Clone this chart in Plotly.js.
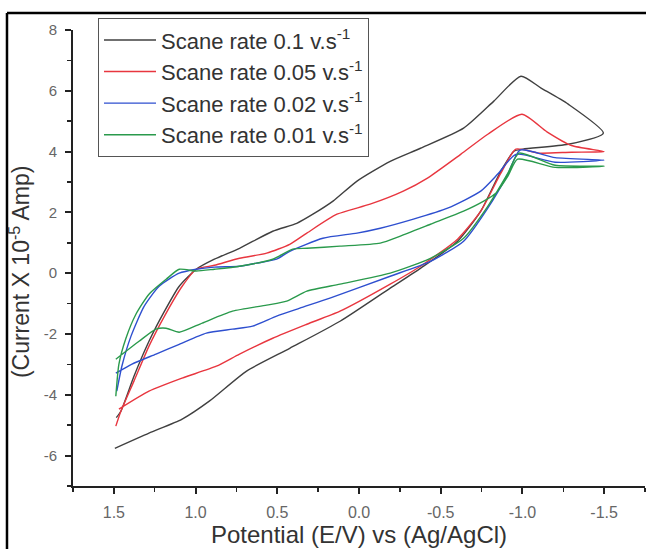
<!DOCTYPE html>
<html>
<head>
<meta charset="utf-8">
<script src="https://cdn.plot.ly/plotly-3.0.1.min.js"></script>
<style>html,body{margin:0;padding:0;background:#fff;}#chart{width:646px;height:549px;}</style>
</head>
<body>
<div id="chart"></div>
<script>
// Scan rate 0.1 V/s
const x01 = [1.494,1.285,1.082,0.916,0.688,0.424,0.116,-0.191,-0.376,-0.603,-0.745,-0.868,-0.948,-1.003,-1.28,-1.495,-1.28,-1.114,-0.991,-0.825,-0.640,-0.376,-0.191,0.012,0.159,0.282,0.381,0.528,0.731,0.885,0.996,1.10,1.19,1.285,1.377,1.457,1.485];
const y01 = [-5.76,-5.26,-4.80,-4.21,-3.22,-2.47,-1.58,-0.49,0.16,1.05,2.04,3.36,4.01,4.08,4.24,4.61,5.56,6.09,6.48,5.66,4.77,4.11,3.68,3.03,2.37,1.94,1.64,1.38,0.82,0.46,0.13,-0.43,-1.25,-2.24,-3.39,-4.54,-4.75];
// Scan rate 0.05 V/s
const x005 = [1.469,1.285,1.082,0.873,0.731,0.528,0.319,0.116,-0.191,-0.376,-0.603,-0.745,-0.868,-0.96,-1.1,-1.3,-1.5,-1.3,-1.15,-0.997,-0.788,-0.622,-0.419,-0.271,-0.068,0.135,0.319,0.424,0.565,0.731,0.885,0.996,1.082,1.19,1.285,1.377,1.457,1.488];
const y005 = [-4.47,-3.88,-3.45,-3.06,-2.66,-2.14,-1.68,-1.25,-0.36,0.23,1.12,2.04,3.29,4.08,3.95,3.98,4.00,4.20,4.65,5.23,4.57,3.91,3.13,2.70,2.27,1.94,1.32,0.95,0.66,0.49,0.26,0.13,-0.43,-1.41,-2.40,-3.55,-4.54,-5.03];
// Scan rate 0.02 V/s
const x002 = [1.488,1.389,1.242,1.10,0.934,0.774,0.651,0.504,0.362,0.178,-0.191,-0.437,-0.640,-0.788,-0.911,-0.985,-1.2,-1.5,-1.2,-0.96,-0.849,-0.745,-0.542,-0.333,-0.130,0.012,0.221,0.424,0.504,0.627,0.731,0.885,0.996,1.10,1.223,1.315,1.395,1.451,1.482];
const y002 = [-3.29,-2.99,-2.66,-2.34,-1.97,-1.84,-1.74,-1.41,-1.15,-0.82,-0.10,0.39,1.05,2.14,3.26,4.05,3.80,3.72,3.65,3.91,3.26,2.70,2.14,1.78,1.48,1.32,1.15,0.72,0.46,0.33,0.23,0.20,0.13,0.0,-0.43,-1.09,-2.07,-3.06,-3.88];
// Scan rate 0.01 V/s
const x001 = [1.488,1.346,1.242,1.18,1.10,0.959,0.774,0.565,0.442,0.319,0.116,-0.191,-0.437,-0.640,-0.788,-0.911,-0.979,-1.2,-1.5,-1.2,-0.97,-0.911,-0.837,-0.763,-0.640,-0.437,-0.253,-0.130,0.116,0.319,0.405,0.528,0.731,0.885,0.996,1.10,1.18,1.285,1.365,1.426,1.469,1.488];
const y001 = [-2.83,-2.24,-1.84,-1.81,-1.94,-1.64,-1.25,-1.05,-0.92,-0.59,-0.36,0.0,0.49,1.15,2.20,3.29,3.95,3.55,3.52,3.48,3.75,3.19,2.63,2.37,2.04,1.61,1.22,0.99,0.89,0.82,0.79,0.46,0.23,0.13,0.07,0.13,-0.2,-0.69,-1.35,-2.14,-2.99,-4.05];

const names = ['Scane rate 0.1 v.s<sup>-1</sup>','Scane rate 0.05 v.s<sup>-1</sup>','Scane rate 0.02 v.s<sup>-1</sup>','Scane rate 0.01 v.s<sup>-1</sup>'];
const xTickVals = [1.5,1.0,0.5,0.0,-0.5,-1.0,-1.5];
const xTickText = ['1.5','1.0','0.5','0.0','-0.5','-1.0','-1.5'];
const yTickVals = [-6,-4,-2,0,2,4,6,8];
const yTickText = ['-6','-4','-2','0','2','4','6','8'];
const yTitle = '(Current X 10<sup>-5</sup> Amp)';
const xTitle = 'Potential (E/V) vs (Ag/AgCl)';

const colors = ['#404040','#e8363f','#2e4fcf','#2a9a4c'];
const xs = [x01,x005,x002,x001];
const ys = [y01,y005,y002,y001];

const data = xs.map((x,i)=>({
  x: x, y: ys[i], type:'scatter', mode:'lines', name:names[i],
  line:{color:colors[i], width:1.4, shape:'spline', smoothing:0.6}
}));

const layout = {
  width:646, height:549,
  margin:{l:73, r:1, t:30, b:63},
  paper_bgcolor:'#fff', plot_bgcolor:'#fff',
  font:{family:'Arial, Liberation Sans, sans-serif', color:'#333'},
  showlegend:true,
  legend:{x:0.0437, y:1.026, xanchor:'left', yanchor:'top',
    bordercolor:'#555', borderwidth:1, bgcolor:'rgba(255,255,255,0)',
    font:{size:22, color:'#333'}, itemwidth:52},
  xaxis:{range:[1.75,-1.75], autorange:false, tickmode:'array', tickvals:xTickVals, ticktext:xTickText,
    showgrid:false, zeroline:false, showline:true, linecolor:'#222', linewidth:2,
    ticks:'outside', ticklen:6, tickwidth:2, tickcolor:'#222',
    minor:{tickmode:'linear', tick0:0, dtick:0.25, ticks:'outside', ticklen:4, tickwidth:1.5, tickcolor:'#222'},
    tickfont:{size:16, color:'#666'}, ticklabelstandoff:5,
    title:{text:xTitle, font:{size:24, color:'#333'}, standoff:6}},
  yaxis:{range:[-7,8], autorange:false, tickmode:'array', tickvals:yTickVals, ticktext:yTickText,
    showgrid:false, zeroline:false, showline:true, linecolor:'#222', linewidth:2,
    ticks:'outside', ticklen:6, tickwidth:2, tickcolor:'#222',
    minor:{tickmode:'linear', tick0:0, dtick:1, ticks:'outside', ticklen:4, tickwidth:1.5, tickcolor:'#222'},
    tickfont:{size:15, color:'#666'}, ticklabelstandoff:5},
  annotations:[
    {text:yTitle, xref:'paper', yref:'paper', x:-0.0927, y:0.469, xanchor:'center', yanchor:'middle',
     textangle:-90, showarrow:false, font:{size:23, color:'#333'}}
  ],
  shapes:[
    {type:'line', xref:'paper', yref:'paper', x0:-0.1154, x1:1.01, y0:1.0373, y1:1.0373, line:{color:'#000', width:2.5}},
    {type:'line', xref:'paper', yref:'paper', x0:-0.1154, x1:-0.1154, y0:1.0373, y1:-0.2, line:{color:'#000', width:2.5}}
  ]
};
Plotly.newPlot('chart', data, layout, {displayModeBar:false, staticPlot:true});
</script>
</body>
</html>
